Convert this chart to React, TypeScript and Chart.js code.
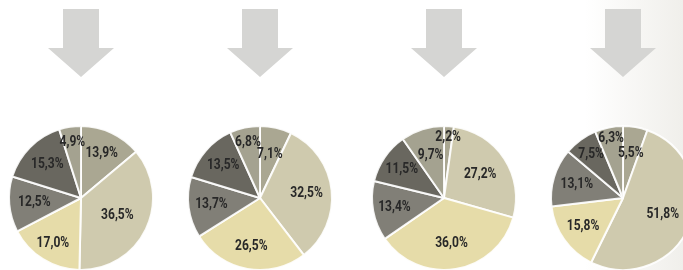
import React, { useEffect, useRef } from "react";
import { Chart, registerables } from "chart.js";

Chart.register(...registerables);

// Slice order: clockwise from 12 o'clock
const sliceNames = ["A", "B", "C", "D", "E", "F"];
const pie1Values = [13.9, 36.5, 17.0, 12.5, 15.3, 4.9];
const pie2Values = [7.1, 32.5, 26.5, 13.7, 13.5, 6.8];
const pie3Values = [2.2, 27.2, 36.0, 13.4, 11.5, 9.7];
const pie4Values = [5.5, 51.8, 15.8, 13.1, 7.5, 6.3];
const allPies = [pie1Values, pie2Values, pie3Values, pie4Values];

const sliceColors = ["#aaa792", "#cfcaae", "#e6dca9", "#817f77", "#69675f", "#a4a290"];

// label distance from centre as a fraction of radius (layout only)
const labelRadius = [
  [0.68, 0.56, 0.74, 0.65, 0.66, 0.78],
  [0.62, 0.65, 0.69, 0.68, 0.68, 0.79],
  [0.84, 0.6, 0.64, 0.7, 0.71, 0.62],
  [0.63, 0.6, 0.68, 0.67, 0.75, 0.84],
];

const pieCentersX = [81, 260, 444, 623];
const CANVAS_W = 170;
const CANVAS_H = 270;
const RADIUS = 72;
const CENTER_Y = 198;
const TEXT_SQUEEZE = 0.86;

const fmt = (v: number) => v.toFixed(1).replace(".", ",") + "%";

function PieCanvas({ idx }: { idx: number }) {
  const ref = useRef<HTMLCanvasElement | null>(null);
  useEffect(() => {
    if (!ref.current) return;
    const values = allPies[idx];
    const fracs = labelRadius[idx];
    const arrowPlugin = {
      id: "arrow",
      beforeDraw(chart: any) {
        const ctx = chart.ctx;
        const cx = CANVAS_W / 2;
        ctx.save();
        ctx.fillStyle = "#d5d5d3";
        ctx.beginPath();
        ctx.moveTo(cx - 18, 9);
        ctx.lineTo(cx + 18, 9);
        ctx.lineTo(cx + 18, 48);
        ctx.lineTo(cx + 33, 48);
        ctx.lineTo(cx, 77);
        ctx.lineTo(cx - 33, 48);
        ctx.lineTo(cx - 18, 48);
        ctx.closePath();
        ctx.fill();
        ctx.restore();
      },
    };
    const labelPlugin = {
      id: "labels",
      afterDatasetsDraw(chart: any) {
        const ctx = chart.ctx;
        const meta = chart.getDatasetMeta(0);
        meta.data.forEach((arc: any, i: number) => {
          const p = arc.getProps(["startAngle", "endAngle", "outerRadius", "x", "y"], true);
          const mid = (p.startAngle + p.endAngle) / 2;
          const r = p.outerRadius * fracs[i];
          const tx = p.x + Math.cos(mid) * r;
          const ty = p.y + Math.sin(mid) * r;
          ctx.save();
          ctx.translate(tx, ty);
          ctx.scale(TEXT_SQUEEZE, 1);
          ctx.font = 'bold 14px Roboto, "DejaVu Sans Condensed", sans-serif';
          ctx.fillStyle = "#282828";
          ctx.textAlign = "center";
          ctx.textBaseline = "middle";
          ctx.fillText(fmt(values[i]), 0, 0);
          ctx.restore();
        });
      },
    };
    const chart = new Chart(ref.current, {
      type: "pie",
      data: {
        labels: sliceNames,
        datasets: [
          {
            data: values,
            backgroundColor: sliceColors,
            borderColor: "rgba(255,255,255,0.9)",
            borderWidth: 2,
          },
        ],
      },
      options: {
        responsive: false,
        maintainAspectRatio: false,
        animation: false,
        radius: RADIUS,
        layout: {
          padding: {
            top: CENTER_Y - RADIUS,
            bottom: CANVAS_H - (CENTER_Y + RADIUS),
            left: CANVAS_W / 2 - RADIUS,
            right: CANVAS_W / 2 - RADIUS,
          },
        },
        plugins: {
          legend: { display: false },
          tooltip: { enabled: false },
        },
      } as any,
      plugins: [arrowPlugin, labelPlugin],
    });
    return () => chart.destroy();
  }, [idx]);
  return (
    <canvas
      ref={ref}
      width={CANVAS_W}
      height={CANVAS_H}
      style={{
        position: "absolute",
        left: pieCentersX[idx] - CANVAS_W / 2,
        top: 0,
        width: CANVAS_W,
        height: CANVAS_H,
      }}
    />
  );
}

export default function App() {
  return (
    <div
      style={{
        position: "fixed",
        left: 0,
        top: 0,
        width: 683,
        height: 270,
        overflow: "hidden",
        background: "linear-gradient(to right, #ffffff 0px, #ffffff 585px, #f0efeb 683px)",
      }}
    >
      {allPies.map((_, i) => (
        <PieCanvas key={i} idx={i} />
      ))}
    </div>
  );
}
